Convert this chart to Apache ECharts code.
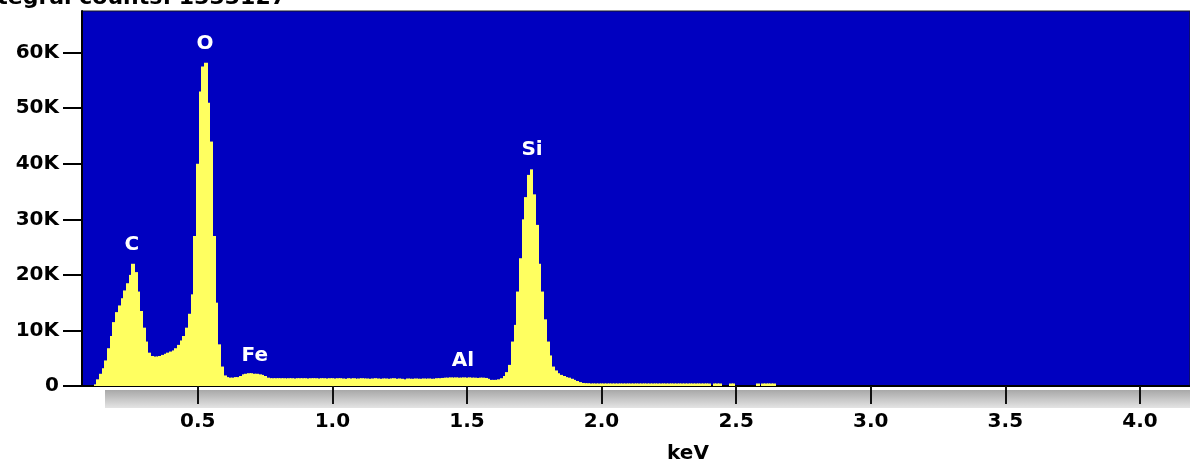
<!DOCTYPE html>
<html>
<head>
<meta charset="utf-8">
<script src="https://cdn.jsdelivr.net/npm/echarts@6/dist/echarts.min.js"></script>
<style>
html,body{margin:0;padding:0;background:#fff;}
#chart{width:1190px;height:469px;}
</style>
</head>
<body>
<div id="chart"></div>
<script>
// ---- data ----
const titleText = 'Integral counts: 1333127';
const energyStart = 0.08;   // keV of first channel
const channelWidth = 0.01;  // keV per channel
// counts in thousands, one per channel
const countsK = [
  0, 0,
  0, 0, 0.3, 1.2, 2.2, 3.2, 4.6, 6.8, 9.0, 11.5,
  13.3, 14.5, 15.8, 17.2, 18.5, 20.0, 22.0, 20.5, 17.0, 13.5,
  10.5, 8.0, 6.0, 5.4, 5.3, 5.3, 5.4, 5.6, 5.8, 6.0,
  6.2, 6.4, 6.8, 7.4, 8.2, 9.0, 10.5, 13.0, 16.5, 27.0,
  40.0, 53.0, 57.5, 58.2, 51.0, 44.0, 27.0, 15.0, 7.5, 3.5,
  1.9, 1.6, 1.5, 1.5, 1.6, 1.6, 1.8, 2.1, 2.2, 2.3,
  2.3, 2.2, 2.2, 2.1, 2.0, 1.8, 1.5, 1.4, 1.4, 1.4,
  1.4, 1.4, 1.4, 1.35, 1.4, 1.4, 1.35, 1.4, 1.4, 1.4,
  1.4, 1.35, 1.4, 1.4, 1.4, 1.35, 1.4, 1.4, 1.35, 1.4,
  1.4, 1.35, 1.4, 1.4, 1.35, 1.3, 1.4, 1.35, 1.4, 1.3,
  1.35, 1.4, 1.35, 1.35, 1.3, 1.35, 1.4, 1.35, 1.3, 1.35,
  1.35, 1.3, 1.35, 1.4, 1.3, 1.35, 1.3, 1.2, 1.35, 1.3,
  1.3, 1.35, 1.3, 1.3, 1.35, 1.3, 1.35, 1.3, 1.3, 1.4,
  1.4, 1.45, 1.5, 1.5, 1.55, 1.5, 1.55, 1.5, 1.5, 1.55,
  1.5, 1.55, 1.5, 1.5, 1.45, 1.5, 1.5, 1.45, 1.3, 1.1,
  1.1, 1.1, 1.2, 1.4, 1.8, 2.5, 3.8, 8.0, 11.0, 17.0,
  23.0, 30.0, 34.0, 38.0, 39.0, 34.5, 29.0, 22.0, 17.0, 12.0,
  8.0, 5.5, 3.5, 2.8, 2.3, 2.0, 1.8, 1.6, 1.5, 1.3,
  1.1, 0.9, 0.7, 0.55, 0.5, 0.5, 0.45, 0.45, 0.45, 0.45,
  0.45, 0.45, 0.45, 0.45, 0.45, 0.45, 0.45, 0.45, 0.45, 0.45,
  0.45, 0.45, 0.45, 0.45, 0.45, 0.45, 0.45, 0.45, 0.45, 0.45,
  0.45, 0.45, 0.45, 0.45, 0.45, 0.45, 0.45, 0.45, 0.45, 0.45,
  0.45, 0.45, 0.45, 0.45, 0.45, 0.45, 0.45, 0.45, 0.45, 0.45,
  0.45, 0, 0.45, 0.45, 0.45, 0, 0, 0, 0.45, 0.45,
  0, 0, 0, 0, 0, 0, 0, 0, 0.45, 0,
  0.45, 0.45, 0.45, 0.45, 0.45, 0, 0, 0, 0, 0,
  0
];
const elementNames = ['C', 'O', 'Fe', 'Al', 'Si'];
const elementKeV   = [0.255, 0.527, 0.712, 1.485, 1.742];
const elementLabelK = [25.5, 61.6, 5.5, 4.6, 42.5];
const xTicks = [0.5, 1.0, 1.5, 2.0, 2.5, 3.0, 3.5, 4.0];
const yTicks = [0, 10000, 20000, 30000, 40000, 50000, 60000];
const xMin = 0.07, xMax = 4.186;
const yMax = 67500;

// ---- build ----
const spectrum = countsK.map((c, i) => [+(energyStart + i * channelWidth).toFixed(3), c * 1000]);
const labelPts = elementNames.map((n, i) => ({ name: n, value: [elementKeV[i], elementLabelK[i] * 1000] }));

const chart = echarts.init(document.getElementById('chart'), null, { renderer: 'canvas' });
const font = 'DejaVu Sans, Verdana, sans-serif';

function renderChannel(params, api) {
  const x = api.value(0), y = api.value(1);
  if (!(y > 0)) return null;
  const p0 = api.coord([x - channelWidth / 2, y]);
  const p1 = api.coord([x + channelWidth / 2, 0]);
  const left = Math.floor(p0[0]);
  const right = Math.ceil(p1[0]);
  return {
    type: 'rect',
    shape: { x: left, y: p0[1], width: right - left, height: p1[1] - p0[1] },
    style: { fill: '#ffff60' },
    silent: true
  };
}

chart.setOption({
  animation: false,
  backgroundColor: '#ffffff',
  grid: {
    left: 82, right: 0, top: 11, bottom: 81,
    show: true, backgroundColor: '#0000c0', borderColor: '#1a1a1a', borderWidth: 1
  },
  graphic: [
    {
      type: 'rect', z: -10, silent: true,
      shape: { x: 105, y: 390, width: 1085, height: 18 },
      style: {
        fill: new echarts.graphic.LinearGradient(0, 0, 0, 1, [
          { offset: 0, color: '#a8a8a8' },
          { offset: 1, color: '#e4e4e4' }
        ])
      }
    },
    {
      type: 'text', silent: true,
      style: {
        text: titleText, x: 286, y: 9, align: 'right', verticalAlign: 'bottom',
        font: 'bold 22px ' + font, fill: '#000'
      }
    }
  ],
  xAxis: {
    type: 'value', min: xMin, max: xMax,
    name: 'keV', nameLocation: 'middle', nameGap: 58,
    nameTextStyle: { fontFamily: font, fontWeight: 'bold', fontSize: 20, color: '#000', padding: [0, 0, 0, 104] },
    axisLine: { show: true, onZero: false, lineStyle: { color: '#000', width: 2 } },
    axisTick: { show: true, customValues: xTicks, length: 18, lineStyle: { color: '#111', width: 2 } },
    axisLabel: {
      customValues: xTicks, margin: 26, fontFamily: font, fontWeight: 'bold', fontSize: 20, color: '#000',
      formatter: v => v.toFixed(1)
    },
    splitLine: { show: false }
  },
  yAxis: {
    type: 'value', min: 0, max: yMax,
    axisLine: { show: true, onZero: false, lineStyle: { color: '#000', width: 2 } },
    axisTick: { show: true, customValues: yTicks, length: 19, lineStyle: { color: '#000', width: 2 } },
    axisLabel: {
      customValues: yTicks, margin: 23, fontFamily: font, fontWeight: 'bold', fontSize: 20, color: '#000',
      formatter: v => v === 0 ? '0' : (v / 1000) + 'K'
    },
    splitLine: { show: false }
  },
  series: [
    {
      type: 'custom', data: spectrum, renderItem: renderChannel, clip: true,
      encode: { x: 0, y: 1 }, z: 2
    },
    {
      type: 'scatter', data: labelPts, symbolSize: 1, itemStyle: { opacity: 0 }, z: 3,
      label: {
        show: true, position: 'inside', formatter: p => p.name,
        fontFamily: font, fontWeight: 'bold', fontSize: 20, color: '#ffffff', opacity: 1
      }
    }
  ]
});
</script>
</body>
</html>
